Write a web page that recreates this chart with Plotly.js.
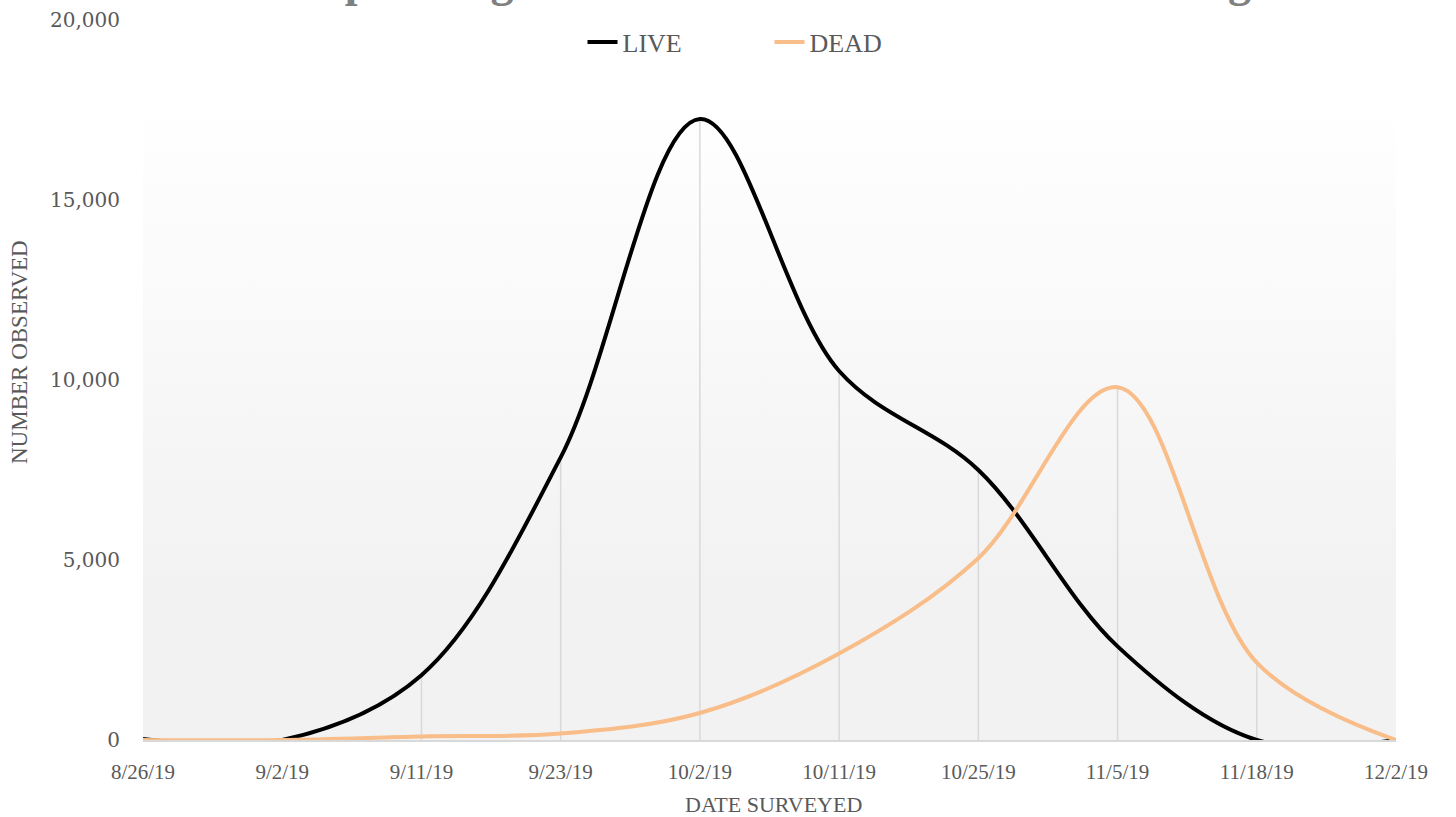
<!DOCTYPE html>
<html>
<head>
<meta charset="utf-8">
<script src="https://cdn.plot.ly/plotly-3.0.1.min.js"></script>
<style>
  html, body { margin: 0; padding: 0; background: #ffffff; }
  #chart { width: 1456px; height: 817px; }
</style>
</head>
<body>
<div id="chart"></div>
<script>
// ---- data ----
const dates = ["8/26/19", "9/2/19", "9/11/19", "9/23/19", "10/2/19", "10/11/19", "10/25/19", "11/5/19", "11/18/19", "12/2/19"];
const liveCounts = [30, 0, 1800, 7850, 17250, 10250, 7500, 2600, 0, 0];
const deadCounts = [0, 0, 100, 180, 750, 2400, 5050, 9800, 2150, 0];
const yTickVals = [0, 5000, 10000, 15000, 20000];
const yTickText = ["0", "5,000", "10,000", "15,000", "20,000"];

const seriesNames = ["LIVE", "DEAD"];
const titleText = "Spawning Chinook Counts and Carcass Timing";
const xTitle = "DATE SURVEYED";
const yTitle = "NUMBER OBSERVED";

// drop lines (from the higher of the two series down to zero)
const dropX = [], dropY = [];
dates.forEach((d, i) => {
  const top = Math.max(liveCounts[i], deadCounts[i]);
  dropX.push(d, d, null);
  dropY.push(0, top, null);
});

const serif = "'Liberation Serif', 'Times New Roman', serif";
const serifWide = "'DejaVu Serif', serif";
const grey = "#595959";

const traces = [
  {
    x: dropX, y: dropY, type: "scatter", mode: "lines",
    line: { color: "#d9d9d9", width: 1.5 },
    showlegend: false, hoverinfo: "skip"
  },
  {
    x: dates, y: liveCounts, name: seriesNames[0], type: "scatter", mode: "lines",
    line: { color: "#000000", width: 4, shape: "spline", smoothing: 1 }
  },
  {
    x: dates, y: deadCounts, name: seriesNames[1], type: "scatter", mode: "lines",
    line: { color: "#F8BD88", width: 4, shape: "spline", smoothing: 1 }
  }
];

const gradSvg = '<svg xmlns="http://www.w3.org/2000/svg" width="10" height="100" preserveAspectRatio="none">' +
  '<defs><linearGradient id="g" x1="0" y1="0" x2="0" y2="1">' +
  '<stop offset="0" stop-color="#ffffff"/><stop offset="0.75" stop-color="#f2f2f2"/><stop offset="1" stop-color="#f2f2f2"/>' +
  '</linearGradient></defs><rect width="10" height="100" fill="url(#g)"/></svg>';
const gradSrc = "data:image/svg+xml;base64," + btoa(gradSvg);

const W = 1456, H = 817;
const plotLeft = 143, plotRight = 1396;
const plotTop = 20, plotBottom = 740, plotH = plotBottom - plotTop, plotW = plotRight - plotLeft;
const gradTopPx = 103;
const px2xp = px => (px - plotLeft) / plotW;
const py2yp = py => (plotBottom - py) / plotH;

const layout = {
  width: W, height: H,
  margin: { l: plotLeft, r: W - plotRight, t: plotTop, b: H - plotBottom, pad: 0 },
  paper_bgcolor: "#ffffff",
  plot_bgcolor: "rgba(0,0,0,0)",
  title: {
    text: "<b>" + titleText + "</b>",
    font: { family: serif, size: 46, color: "#808080" },
    xref: "container", x: 785 / W, xanchor: "center",
    yref: "container", y: 1, yanchor: "bottom",
    pad: { b: 4 }
  },
  showlegend: true,
  legend: {
    orientation: "h", x: 0.5, xanchor: "center",
    y: py2yp(42), yanchor: "middle",
    font: { family: serif, size: 26, color: grey },
    bgcolor: "rgba(0,0,0,0)",
    entrywidth: 142, entrywidthmode: "pixels",
    itemwidth: 30
  },
  xaxis: {
    type: "category",
    range: [0, dates.length - 1],
    showgrid: false, zeroline: false,
    showline: true, linecolor: "#d9d9d9", linewidth: 2,
    ticks: "", ticklabelstandoff: 12,
    tickfont: { family: serif, size: 21, color: grey },
    fixedrange: true
  },
  yaxis: {
    range: [0, 20000],
    tickvals: yTickVals, ticktext: yTickText,
    showgrid: false, zeroline: false, showline: false,
    ticks: "", ticklabelstandoff: 22,
    tickfont: { family: serifWide, size: 20, color: grey },
    fixedrange: true
  },
  annotations: [
    {
      text: xTitle, xref: "paper", yref: "paper",
      x: px2xp(773), y: py2yp(805), xanchor: "center", yanchor: "middle",
      showarrow: false, font: { family: serif, size: 22, color: grey }
    },
    {
      text: yTitle, xref: "paper", yref: "paper", textangle: -90,
      x: px2xp(19), y: py2yp(352), xanchor: "center", yanchor: "middle",
      showarrow: false, font: { family: serif, size: 23, color: grey }
    }
  ],
  images: [{
    source: gradSrc, xref: "paper", yref: "paper",
    x: 0, y: py2yp(gradTopPx), sizex: 1, sizey: py2yp(gradTopPx),
    xanchor: "left", yanchor: "top", sizing: "stretch", layer: "below"
  }]
};

Plotly.newPlot("chart", traces, layout, { displayModeBar: false, staticPlot: true });
</script>
</body>
</html>
